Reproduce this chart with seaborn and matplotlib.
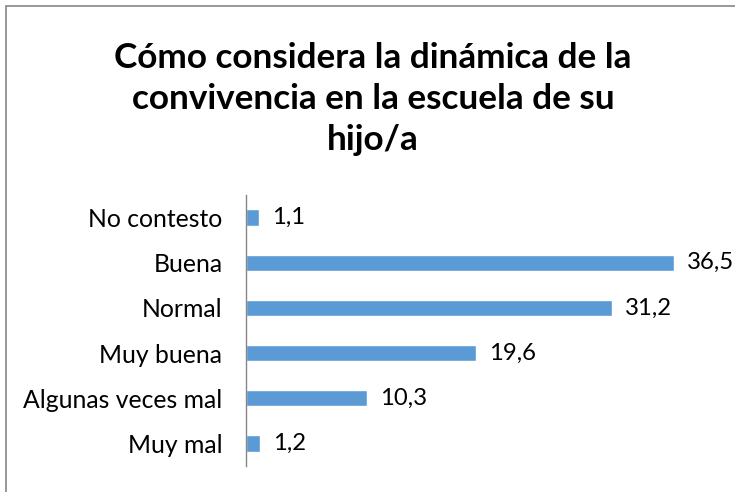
import matplotlib
matplotlib.use("Agg")
import matplotlib.pyplot as plt
import seaborn as sns
import pandas as pd
from matplotlib.patches import Rectangle

categories = ["No contesto", "Buena", "Normal", "Muy buena", "Algunas veces mal", "Muy mal"]
values = [1.1, 36.5, 31.2, 19.6, 10.3, 1.2]
labels = ["1,1", "36,5", "31,2", "19,6", "10,3", "1,2"]
title = "Cómo considera la dinámica de la\nconvivencia en la escuela de su\nhijo/a"

sns.set_theme(style="white")
plt.rcParams['font.family'] = ['Lato', 'DejaVu Sans']

df = pd.DataFrame({"cat": categories, "val": values})

fig = plt.figure(figsize=(7.35, 4.92), dpi=100)
ax = fig.add_axes([246/735, 26/492, (715-246)/735, (466-195)/492])
sns.barplot(data=df, y="cat", x="val", order=categories, color="#5B9BD5",
            saturation=1, width=0.36, ax=ax)
ax.set_xlim(0, 40)
ax.set_ylim(5.5, -0.5)
ax.set_xlabel("")
ax.set_ylabel("")
ax.set_xticks([])
for s in ["top", "right", "bottom"]:
    ax.spines[s].set_visible(False)
ax.spines["left"].set_color("#868686")
ax.spines["left"].set_linewidth(1)
ax.tick_params(axis="y", length=0, pad=17, labelsize=17.8, labelcolor="black")
for i, (v, lab) in enumerate(zip(values, labels)):
    ax.annotate(lab, xy=(v, i), xytext=(13, 0), textcoords="offset pixels",
                va="center", ha="left", fontsize=17.2, color="black")

fig.text(373/735, 1 - 99/492, title, ha="center", va="center", fontsize=25.3,
         fontweight="bold", linespacing=1.35, color="black")

fig.patches.append(Rectangle((6/735, -0.1), 1.2, 1 - 6/492 + 0.1, transform=fig.transFigure,
                             fill=False, edgecolor="#868686", linewidth=1.2))

fig.savefig("out.png", dpi=100)
